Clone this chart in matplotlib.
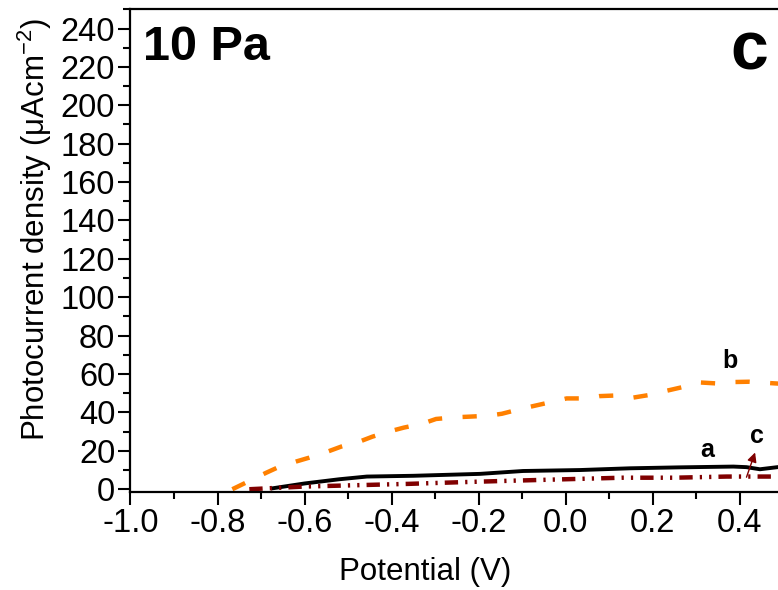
import matplotlib
matplotlib.use("Agg")
from matplotlib import pyplot as plt
from matplotlib.ticker import MultipleLocator, FormatStrFormatter

plt.rcParams['font.family'] = ['Liberation Sans', 'DejaVu Sans']
plt.rcParams['axes.unicode_minus'] = False
plt.rcParams['mathtext.fontset'] = 'custom'
plt.rcParams['mathtext.rm'] = 'Liberation Sans'
plt.rcParams['mathtext.it'] = 'Liberation Sans'

# curve a (solid black)
pot_a = [-0.673, -0.6, -0.52, -0.457, -0.35, -0.197, -0.098, 0.033, 0.147, 0.262, 0.385, 0.415, 0.446, 0.49]
cur_a = [0.5, 3.0, 5.2, 6.6, 7.0, 8.0, 9.5, 10.0, 10.9, 11.4, 11.8, 11.5, 10.4, 11.6]

# curve b (orange dashed)
pot_b = [-0.766, -0.688, -0.663, -0.62, -0.59, -0.547, -0.516, -0.474, -0.444, -0.402, -0.372,
         -0.33, -0.298, -0.252, -0.222, -0.178, -0.147, -0.104, -0.075, -0.03, 0.002, 0.046,
         0.077, 0.123, 0.154, 0.2, 0.228, 0.272, 0.302, 0.347, 0.377, 0.421, 0.454, 0.49]
cur_b = [0.0, 8.6, 11.2, 14.4, 16.4, 19.6, 22.2, 24.8, 27.4, 30.3, 32.1,
         34.1, 36.6, 37.5, 37.8, 38.3, 39.3, 41.8, 43.3, 45.6, 47.3, 47.3,
         48.5, 48.9, 47.7, 49.4, 51.1, 53.4, 55.7, 55.1, 55.8, 56.0, 55.5, 55.0]

# curve c (dark red dash-dot-dot)
pot_c = [-0.727, -0.6, -0.48, -0.36, -0.25, -0.145, 0.0, 0.13, 0.25, 0.37, 0.49]
cur_c = [0.0, 1.4, 2.1, 2.8, 3.6, 4.3, 5.2, 6.0, 6.0, 6.6, 6.6]

fig = plt.figure(figsize=(7.78, 5.90), dpi=100)
# axes run slightly past the right edge of the figure (cropped look)
ax = fig.add_axes([0.1677, 0.1656, 0.8393, 0.8186])

ax.plot(pot_b, cur_b, color='#FF8000', lw=3.2, dashes=(3.2, 4.6))
ax.plot(pot_a, cur_a, color='black', lw=2.8)
ax.plot(pot_c, cur_c, color='#800000', lw=3.2, dashes=(3.0, 1.6, 0.5, 1.6, 0.5, 1.6))

ax.set_xlim(-1.0, 0.5)
ax.set_ylim(-1.6, 250)
ax.xaxis.set_major_locator(MultipleLocator(0.2))
ax.xaxis.set_minor_locator(MultipleLocator(0.1))
ax.yaxis.set_major_locator(MultipleLocator(20))
ax.yaxis.set_minor_locator(MultipleLocator(10))
ax.xaxis.set_major_formatter(FormatStrFormatter('%.1f'))
ax.set_yticks(range(0, 241, 20))
ax.tick_params(which='both', direction='out', width=1.5, labelsize=23.5, top=False, right=False)
ax.tick_params(which='major', length=9, pad=2)
ax.tick_params(which='minor', length=5)
for s in ax.spines.values():
    s.set_linewidth(1.6)

ax.set_xlabel('Potential (V)', fontsize=22.5)
ax.xaxis.set_label_coords(0.451, -0.135)
ax.set_ylabel(r'Photocurrent density ($\mu$Acm$^{-2}$)', fontsize=22.5)
ax.yaxis.set_label_coords(-0.117, 0.543)

ax.text(0.019, 0.92, '10 Pa', transform=ax.transAxes, fontsize=35, fontweight='bold', va='center')
ax.text(0.947, 0.912, 'c', transform=ax.transAxes, fontsize=49, fontweight='bold', va='center', ha='center')

ax.text(0.377, 67, 'b', fontsize=18, fontweight='bold', ha='center', va='center')
ax.text(0.324, 20.5, 'a', fontsize=18, fontweight='bold', ha='center', va='center')
ax.annotate('c', xy=(0.437, 20.5), xytext=(0.440, 27.5), fontsize=18, fontweight='bold',
            ha='center', va='center')
ax.annotate('', xy=(0.437, 20.5), xytext=(0.413, 4.9),
            arrowprops=dict(arrowstyle='-|>', color='#800000', lw=1, mutation_scale=14))

fig.savefig('out.png', dpi=100)
